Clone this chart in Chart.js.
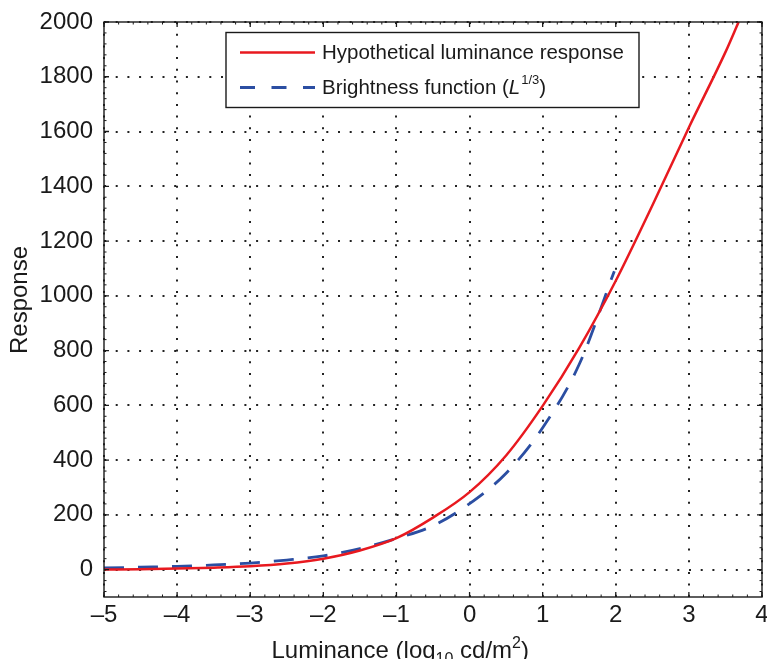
<!DOCTYPE html>
<html>
<head>
<meta charset="utf-8">
<script src="https://cdn.jsdelivr.net/npm/chart.js@4.4.1/dist/chart.umd.min.js"></script>
<style>
  html, body { margin: 0; padding: 0; background: #fff; }
</style>
</head>
<body>
<canvas id="chart" width="767" height="659"></canvas>
<script>
// ticks
const xTicks = [-5, -4, -3, -2, -1, 0, 1, 2, 3, 4];
const yTicks = [0, 200, 400, 600, 800, 1000, 1200, 1400, 1600, 1800, 2000];

// hypothetical luminance response (red, solid)
const responseX = [-5, -4.5, -4, -3.5, -3, -2.5, -2, -1.5, -1, -0.5, 0, 0.5, 1, 1.5, 2, 2.5, 3, 3.5, 3.68];
const responseY = [0, 1, 4, 7, 12, 22, 40, 70, 115, 190, 283, 417, 598, 810, 1055, 1330, 1615, 1890, 2000];

// brightness function L^(1/3) (blue, dashed)
const brightnessX = [-5, -4.5, -4, -3.5, -3, -2.5, -2, -1.5, -1, -0.5, 0, 0.5, 1, 1.5, 1.98];
const brightnessY = [6, 9, 12, 17, 24, 35, 50, 77, 114, 160, 241, 352, 518, 750, 1090];

const seriesNames = ['Hypothetical luminance response', 'Brightness function ('];

const FONT = '"Liberation Sans", Arial, Helvetica, sans-serif';
const INK = '#1a1a1a';
const RED = '#e8191f';
const BLUE = '#2b4ea2';

Chart.defaults.font.family = FONT;
Chart.defaults.color = INK;

const toPoints = (xs, ys) => xs.map((x, i) => ({ x: x, y: ys[i] }));

// box, inward ticks, legend and axis titles (MATLAB look)
const frame = {
    id: 'frame',
    afterDraw(chart) {
        const { ctx, chartArea: a, scales: { x, y } } = chart;
        ctx.save();
        ctx.strokeStyle = INK;
        ctx.lineWidth = 1.3;
        ctx.beginPath();
        xTicks.forEach(v => {
            const px = x.getPixelForValue(v);
            ctx.moveTo(px, a.bottom); ctx.lineTo(px, a.bottom - 5);
            ctx.moveTo(px, a.top); ctx.lineTo(px, a.top + 5);
        });
        yTicks.forEach(v => {
            const py = y.getPixelForValue(v);
            ctx.moveTo(a.left, py); ctx.lineTo(a.left + 5, py);
            ctx.moveTo(a.right, py); ctx.lineTo(a.right - 5, py);
        });
        ctx.stroke();
        // minor ticks
        ctx.lineWidth = 1;
        ctx.beginPath();
        for (let v = -5; v < 4; v += 0.2) {
            const px = x.getPixelForValue(v);
            ctx.moveTo(px, a.bottom); ctx.lineTo(px, a.bottom - 2.5);
            ctx.moveTo(px, a.top); ctx.lineTo(px, a.top + 2.5);
        }
        for (let v = -80; v < 2000; v += 40) {
            const py = y.getPixelForValue(v);
            ctx.moveTo(a.left, py); ctx.lineTo(a.left + 2.5, py);
            ctx.moveTo(a.right, py); ctx.lineTo(a.right - 2.5, py);
        }
        ctx.stroke();
        ctx.lineWidth = 1.4;
        ctx.strokeRect(a.left, a.top, a.width, a.height);

        // legend
        ctx.fillStyle = '#fff';
        ctx.fillRect(226, 32.5, 413, 75);
        ctx.strokeRect(226, 32.5, 413, 75);
        ctx.lineWidth = 2.5;
        ctx.strokeStyle = RED;
        ctx.beginPath(); ctx.moveTo(240, 52.5); ctx.lineTo(315, 52.5); ctx.stroke();
        ctx.lineWidth = 2.8;
        ctx.strokeStyle = BLUE;
        ctx.setLineDash([15, 16.5]);
        ctx.beginPath(); ctx.moveTo(240, 87.5); ctx.lineTo(315, 87.5); ctx.stroke();
        ctx.setLineDash([]);

        ctx.fillStyle = INK;
        ctx.textBaseline = 'middle';
        ctx.textAlign = 'left';
        ctx.font = '20.5px ' + FONT;
        ctx.fillText(seriesNames[0], 322, 53);
        let tx = 322;
        ctx.fillText(seriesNames[1], tx, 88);
        tx += ctx.measureText(seriesNames[1]).width;
        ctx.font = 'italic 20.5px ' + FONT;
        ctx.fillText('L', tx, 88);
        tx += ctx.measureText('L').width + 1;
        ctx.font = '13px ' + FONT;
        ctx.fillText('1/3', tx, 80);
        tx += ctx.measureText('1/3').width;
        ctx.font = '20.5px ' + FONT;
        ctx.fillText(')', tx, 88);

        // x title
        ctx.textBaseline = 'alphabetic';
        tx = 271.5;
        const by = 658;
        ctx.font = '24px ' + FONT;
        ctx.fillText('Luminance (log', tx, by);
        tx += ctx.measureText('Luminance (log').width;
        ctx.font = '16px ' + FONT;
        ctx.fillText('10', tx, by + 6);
        tx += ctx.measureText('10').width;
        ctx.font = '24px ' + FONT;
        ctx.fillText(' cd/m', tx, by);
        tx += ctx.measureText(' cd/m').width;
        ctx.font = '16px ' + FONT;
        ctx.fillText('2', tx, by - 10);
        tx += ctx.measureText('2').width;
        ctx.font = '24px ' + FONT;
        ctx.fillText(')', tx, by);

        // y title
        ctx.translate(26.5, 300);
        ctx.rotate(-Math.PI / 2);
        ctx.textAlign = 'center';
        ctx.fillText('Response', 0, 0);
        ctx.restore();
    }
};

new Chart(document.getElementById('chart'), {
    type: 'line',
    data: {
        datasets: [{
            label: seriesNames[0],
            data: toPoints(responseX, responseY),
            borderColor: RED,
            borderWidth: 2.5,
            pointRadius: 0,
            cubicInterpolationMode: 'monotone',
            fill: false
        },
        {
            label: 'Brightness function (L^1/3)',
            data: toPoints(brightnessX, brightnessY),
            borderColor: BLUE,
            borderWidth: 2.8,
            borderDash: [20, 14],
            pointRadius: 0,
            cubicInterpolationMode: 'monotone',
            fill: false
        }]
    },
    options: {
        responsive: false,
        animation: false,
        devicePixelRatio: 1,
        layout: { padding: { top: 22, right: 5, left: 0, bottom: 0 } },
        plugins: { legend: { display: false }, tooltip: { enabled: false } },
        scales: {
            x: {
                type: 'linear',
                min: -5,
                max: 4,
                afterBuildTicks: s => { s.ticks = xTicks.map(v => ({ value: v })); },
                afterFit: s => { s.height = 62; s.paddingLeft = 0; s.paddingRight = 0; },
                ticks: {
                    font: { size: 24 },
                    color: INK,
                    padding: 4,
                    maxRotation: 0,
                    callback: v => v < 0 ? '\u2013' + Math.abs(v) : String(v)
                },
                grid: { color: '#222', lineWidth: 2, drawTicks: false },
                border: { display: false, dash: [2, 9.7] }
            },
            y: {
                type: 'linear',
                min: -100,
                max: 2000,
                afterBuildTicks: s => { s.ticks = yTicks.map(v => ({ value: v })); },
                afterFit: s => { s.width = 104; s.paddingTop = 0; s.paddingBottom = 0; },
                ticks: {
                    font: { size: 24 },
                    color: INK,
                    padding: 11,
                    callback: v => String(v)
                },
                grid: { color: '#222', lineWidth: 2, drawTicks: false },
                border: { display: false, dash: [2, 9.7] }
            }
        }
    },
    plugins: [frame]
});
</script>
</body>
</html>
